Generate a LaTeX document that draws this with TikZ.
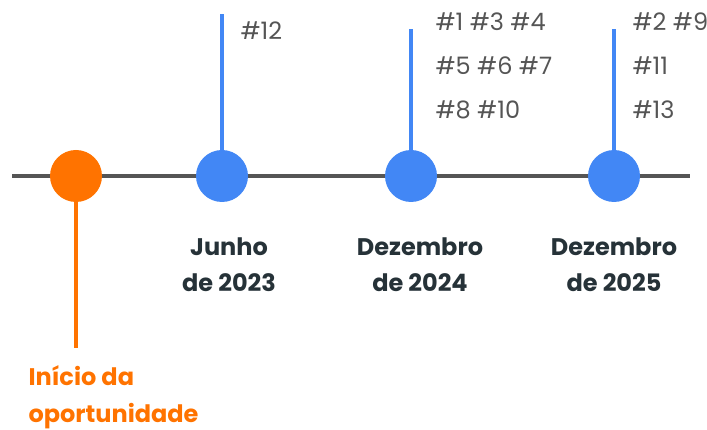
\documentclass[tikz,border=0pt]{standalone}
\usepackage{fontspec}
\setmainfont{Poppins}
\usetikzlibrary{positioning}
\definecolor{lineGray}{HTML}{555555}
\definecolor{startOrange}{HTML}{FF7300}
\definecolor{stepBlue}{HTML}{4287F5}
\definecolor{labelDark}{HTML}{263238}

\begin{document}
\begin{tikzpicture}[x=1pt,y=-1pt,
    milestone/.style={circle, minimum size=52pt, inner sep=0pt},
    datelabel/.style={align=center, text=labelDark, font=\fontsize{24}{36}\selectfont\bfseries},
    issues/.style={align=left, anchor=west, text=lineGray, font=\fontsize{24}{44}\selectfont}]
      \useasboundingbox (0,0) rectangle (707,430);
      \coordinate (L) at (12,176);
      \coordinate (R) at (690,176);
      \draw [lineGray, line width=3.5pt](L) -- (R);
      % markers on the line
      \node (start) [milestone, fill=startOrange] at (76,176) {};
      \node (jun23) [milestone, fill=stepBlue] at (222,176) {};
      \node (dez24) [milestone, fill=stepBlue] at (411,176) {};
      \node (dez25) [milestone, fill=stepBlue] at (614,176) {};
      \coordinate (s0) at (76,348);
      \coordinate (s1) at (222,14);
      \coordinate (s2) at (411,29);
      \coordinate (s3) at (614,29);
      \draw [startOrange, line width=3.5pt](start) -- (s0);
      \draw [stepBlue, line width=3.5pt](jun23) -- (s1);
      \draw [stepBlue, line width=3.5pt](dez24) -- (s2);
      \draw [stepBlue, line width=3.5pt](dez25) -- (s3);
      % texts
      \node (t0) [align=left, anchor=west, text=startOrange,
        font=\fontsize{24}{37}\selectfont\bfseries] at (25,397.5) {Início da\\oportunidade};
      \node (d1) [datelabel] at (229,265) {Junho\\de 2023};
      \node (d2) [datelabel] at (420,265) {Dezembro\\de 2024};
      \node (d3) [datelabel] at (614,265) {Dezembro\\de 2025};
      \node (i1) [issues] at (237,31) {\#12};
      \node (i2) [issues] at (432,66) {\#1 \#3 \#4\\\#5 \#6 \#7\\\#8 \#10};
      \node (i3) [issues] at (629,66) {\#2 \#9\\\#11\\\#13};
    \end{tikzpicture}
\end{document}
